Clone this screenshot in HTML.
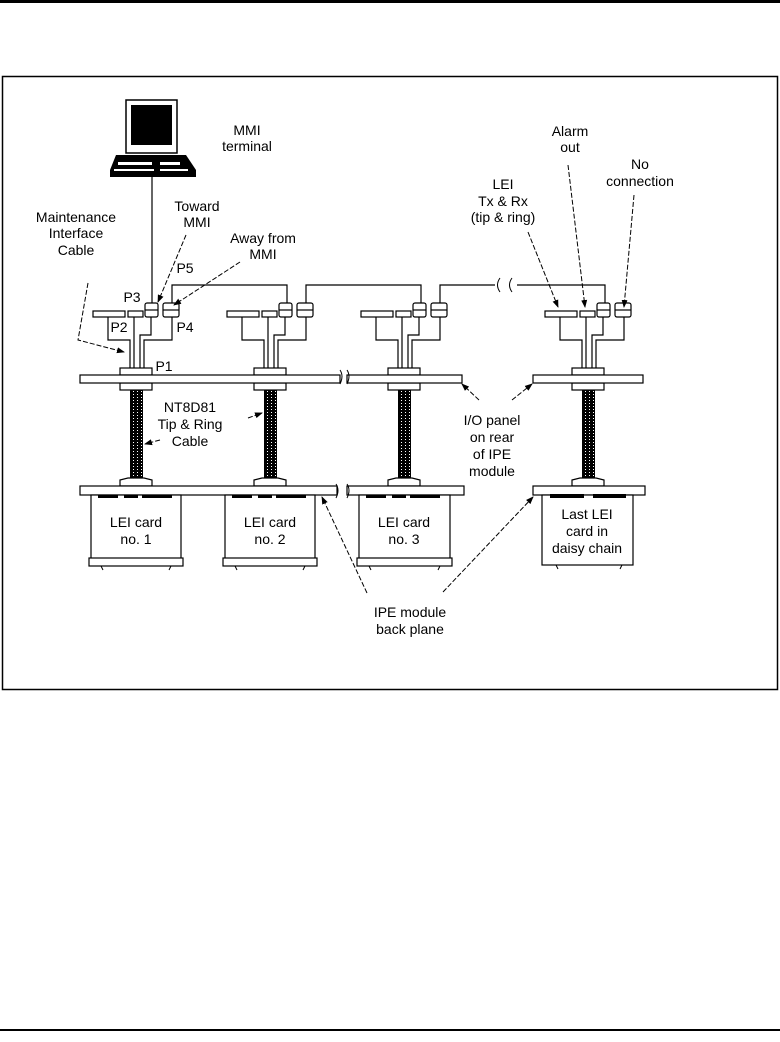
<!DOCTYPE html>
<html><head><meta charset="utf-8"><style>
html,body{margin:0;padding:0;background:#fff;}
svg{display:block;}
text{font-family:"Liberation Sans",sans-serif;font-size:14px;fill:#000;text-anchor:middle;}
</style></head><body>
<svg width="780" height="1042" viewBox="0 0 780 1042" xmlns="http://www.w3.org/2000/svg">
<defs>
<marker id="ah" markerWidth="8" markerHeight="8" refX="7" refY="4" orient="auto" markerUnits="userSpaceOnUse">
<path d="M0,1 L8,4 L0,7 z" fill="#000"/></marker>
<pattern id="cab" width="4" height="3" patternUnits="userSpaceOnUse">
<rect width="4" height="3" fill="#000"/><rect x="1" y="1" width="1" height="1" fill="#fff"/></pattern>
<g id="grp" stroke="#000" stroke-width="1.2" fill="#fff">
<polyline fill="none" points="-28,317 -28,340 -6,340 -6,368"/>
<line x1="-2" y1="317" x2="-2" y2="368"/>
<polyline fill="none" points="15,317 15,335 4,335 4,368"/>
<polyline fill="none" points="36,317 36,340 8,340 8,368"/>
<rect x="-43" y="311" width="32" height="6"/>
<rect x="-8" y="311" width="15" height="6"/>
<rect x="9" y="303" width="13" height="14" rx="2"/><line x1="9" y1="310" x2="22" y2="310"/>
<rect x="27" y="303" width="16" height="14" rx="2"/><line x1="27" y1="310" x2="43" y2="310"/>
<rect x="-16" y="368" width="32" height="7"/>
<rect x="-16" y="383" width="32" height="7"/>
<rect x="-6" y="390" width="13" height="88" fill="url(#cab)" stroke="none"/>
<path d="M-16,486 L-16,480 L-8,478 L8,478 L16,480 L16,486 Z"/>
</g>
</defs>
<rect x="0" y="0" width="780" height="3" fill="#000"/>
<rect x="2.5" y="76.5" width="775" height="613" fill="none" stroke="#000" stroke-width="1.5"/>
<rect x="0" y="1029" width="780" height="2" fill="#000"/>

<!-- monitor -->
<rect x="126" y="100" width="51" height="53" fill="#fff" stroke="#000" stroke-width="1.5"/>
<rect x="131" y="105" width="41" height="40" fill="#000"/>
<path d="M116,155 L186,155 L196,170 L196,177 L110,177 L110,170 Z" fill="#000"/>
<rect x="118" y="162" width="34" height="3" fill="#fff"/><rect x="160" y="162" width="20" height="3" fill="#fff"/>
<rect x="114" y="169" width="40" height="2" fill="#fff"/><rect x="160" y="169" width="28" height="2" fill="#fff"/>
<line x1="152" y1="177" x2="152" y2="303" stroke="#000" stroke-width="1.2"/>

<g stroke="#000" stroke-width="1.2" fill="#fff">
<polyline fill="none" points="172,303 172,285 287,285 287,303"/>
<polyline fill="none" points="306,303 306,285 421,285 421,303"/>
<polyline fill="none" points="440,303 440,285 605,285 605,303"/>
</g>
<rect x="495" y="280" width="22" height="10" fill="#fff"/>
<path d="M500,278 q-5,7 0,14 M512,278 q-5,7 0,14" stroke="#000" fill="none"/>

<use href="#grp" transform="translate(136,0)"/>
<use href="#grp" transform="translate(270,0)"/>
<use href="#grp" transform="translate(404,0)"/>
<use href="#grp" transform="translate(588,0)"/>

<!-- panels -->
<g stroke="#000" stroke-width="1.2" fill="#fff">
<rect x="80" y="375" width="260" height="8"/>
<rect x="347" y="375" width="115" height="8"/>
<rect x="533" y="375" width="110" height="8"/>
<rect x="80" y="486" width="257" height="9"/>
<rect x="347" y="486" width="117" height="9"/>
<rect x="533" y="486" width="112" height="9"/>
</g>
<path d="M340,370 q4,6 0,14 M347,370 q4,6 0,14 M336,484 q4,6 0,14 M347,484 q4,6 0,14" stroke="#000" fill="none"/>
<!-- cards -->
<g stroke="#000" stroke-width="1.2" fill="#fff">
<rect x="91" y="495" width="90" height="67"/><rect x="89" y="558" width="94" height="8"/>
<rect x="225" y="495" width="90" height="67"/><rect x="223" y="558" width="94" height="8"/>
<rect x="359" y="495" width="91" height="67"/><rect x="357" y="558" width="95" height="8"/>
<rect x="542" y="495" width="91" height="70"/>
</g>
<g fill="#000">
<rect x="98" y="495" width="20" height="3"/><rect x="124" y="495" width="14" height="3"/><rect x="142" y="495" width="30" height="3"/>
<rect x="232" y="495" width="20" height="3"/><rect x="258" y="495" width="14" height="3"/><rect x="276" y="495" width="30" height="3"/>
<rect x="366" y="495" width="20" height="3"/><rect x="392" y="495" width="14" height="3"/><rect x="410" y="495" width="30" height="3"/>
<rect x="550" y="494" width="34" height="4"/><rect x="593" y="494" width="33" height="4"/>
</g>
<g stroke="#000" fill="none">
<path d="M101,566 l2,4 M171,566 l-2,4 M235,566 l2,4 M305,566 l-2,4 M369,566 l2,4 M440,566 l-2,4 M556,565 l2,4 M622,565 l-2,4"/>
</g>

<!-- arrows -->
<g stroke="#000" stroke-width="1" fill="none" stroke-dasharray="5,2" marker-end="url(#ah)">
<polyline points="88,283 78,340 124,352"/>
<line x1="186" y1="235" x2="158" y2="302"/>
<line x1="240" y1="262" x2="174" y2="305"/>
<line x1="160" y1="440" x2="145" y2="444"/>
<line x1="248" y1="418" x2="262" y2="413"/>
<line x1="479" y1="400" x2="462" y2="384"/>
<line x1="512" y1="400" x2="532" y2="384"/>
<line x1="367" y1="593" x2="322" y2="497"/>
<line x1="443" y1="592" x2="533" y2="497"/>
<line x1="528" y1="232" x2="558" y2="307"/>
<line x1="568" y1="165" x2="585" y2="307"/>
<line x1="634" y1="195" x2="624" y2="307"/>
</g>

<!-- labels -->
<text x="247" y="135">MMI</text><text x="247" y="151">terminal</text>
<text x="197" y="211">Toward</text><text x="197" y="227">MMI</text>
<text x="263" y="243">Away from</text><text x="263" y="259">MMI</text>
<text x="76" y="222">Maintenance</text><text x="76" y="238">Interface</text><text x="76" y="255">Cable</text>
<text x="185" y="273">P5</text><text x="132" y="302">P3</text><text x="119" y="332">P2</text>
<text x="185" y="332">P4</text><text x="164" y="371">P1</text>
<text x="190" y="412">NT8D81</text><text x="190" y="429">Tip &amp; Ring</text><text x="190" y="446">Cable</text>
<text x="492" y="425">I/O panel</text><text x="492" y="442">on rear</text><text x="492" y="459">of IPE</text><text x="492" y="476">module</text>
<text x="410" y="617">IPE module</text><text x="410" y="634">back plane</text>
<text x="136" y="527">LEI card</text><text x="136" y="544">no. 1</text>
<text x="270" y="527">LEI card</text><text x="270" y="544">no. 2</text>
<text x="404" y="527">LEI card</text><text x="404" y="544">no. 3</text>
<text x="587" y="519">Last LEI</text><text x="587" y="536">card in</text><text x="587" y="553">daisy chain</text>
<text x="503" y="189">LEI</text><text x="503" y="206">Tx &amp; Rx</text><text x="503" y="222">(tip &amp; ring)</text>
<text x="570" y="136">Alarm</text><text x="570" y="152">out</text>
<text x="640" y="169">No</text><text x="640" y="186">connection</text>
</svg>
</body></html>
